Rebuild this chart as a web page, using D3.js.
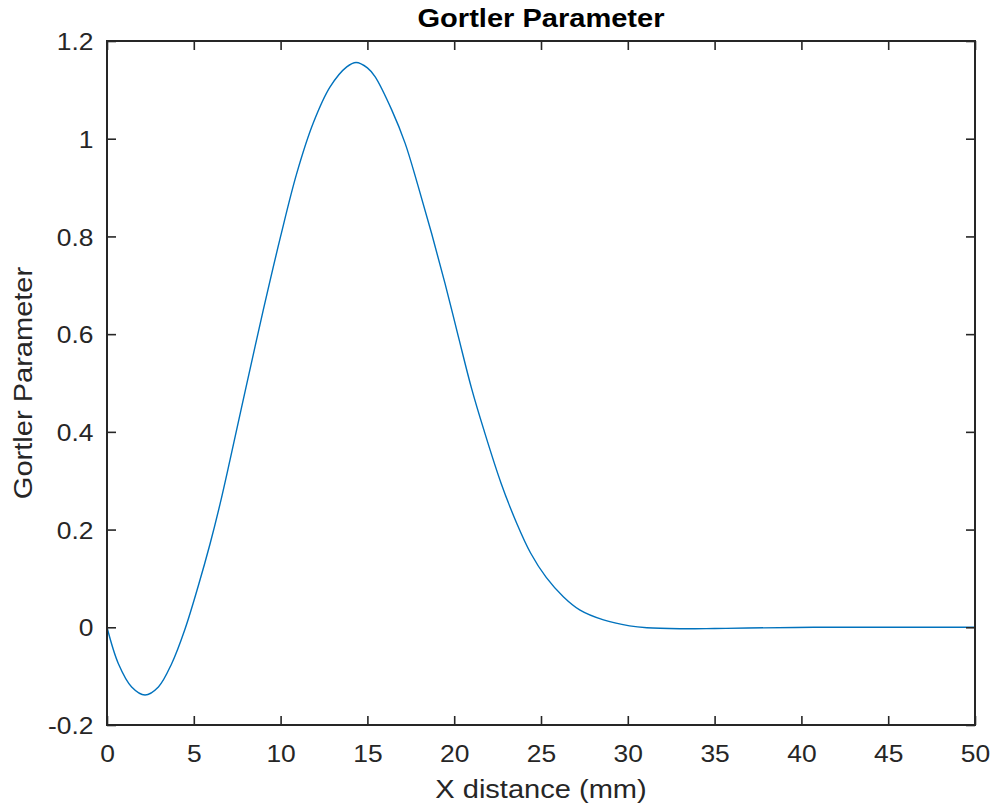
<!DOCTYPE html>
<html>
<head>
<meta charset="utf-8">
<script src="https://cdn.jsdelivr.net/npm/d3@7"></script>
<style>
  body { margin: 0; background: #fff; }
  text { font-family: "Liberation Sans", Arial, Helvetica, sans-serif; fill: #262626; }
</style>
</head>
<body>
<script>
// x distance (mm)
var xs = [0, 0.65, 1.42, 2.19, 2.96, 3.73, 4.49, 5.26, 5.93, 6.51, 7.09, 8.0, 9.0, 10.0,
  10.93, 11.88, 12.85, 13.81, 14.35, 15.0, 15.44, 16.4, 17.17, 17.93, 18.7, 19.47,
  20.24, 21.0, 21.7, 22.7, 23.6, 24.4, 25.3, 26.3, 27.25, 28.6, 30.1, 31.1, 33.0,
  35.0, 36.9, 40.7, 45, 50];
// Gortler parameter at each x
var gs = [0, -0.074, -0.122, -0.1385, -0.122, -0.074, -0.004, 0.085, 0.170, 0.252, 0.343, 0.49, 0.649, 0.80,
  0.929, 1.032, 1.106, 1.147, 1.156, 1.145, 1.127, 1.059, 0.991, 0.902, 0.806, 0.704,
  0.595, 0.489, 0.405, 0.295, 0.213, 0.152, 0.102, 0.062, 0.035, 0.015, 0.003, -0.001, -0.003,
  -0.0025, -0.0015, 0, 0, 0];

var xTicks = [0, 5, 10, 15, 20, 25, 30, 35, 40, 45, 50];
var yTicks = [-0.2, 0, 0.2, 0.4, 0.6, 0.8, 1, 1.2];
var yTickLabels = ["-0.2", "0", "0.2", "0.4", "0.6", "0.8", "1", "1.2"];

var width = 991, height = 807;
var margin = { top: 41, right: 16, bottom: 82, left: 107 };
var w = width - margin.left - margin.right,
  h = height - margin.top - margin.bottom;
var sx = 1.1; // reference text is a bit wider than Arial

var svg = d3.select("body").append("svg")
  .attr("width", width)
  .attr("height", height);

var g = svg.append("g")
  .attr("transform", "translate(" + margin.left + "," + margin.top + ")");

var x = d3.scaleLinear().domain([0, 50]).range([0, w]);
var y = d3.scaleLinear().domain([-0.2, 1.2]).range([h, 0]);

// curve
var data = xs.map(function(d, i) { return { x: d, y: gs[i] }; });
var line = d3.line()
  .x(function(d) { return x(d.x); })
  .y(function(d) { return y(d.y); })
  .curve(d3.curveCatmullRom.alpha(0.5));

g.append("path")
  .datum(data)
  .attr("fill", "none")
  .attr("stroke", "#0072BD")
  .attr("stroke-width", 1.4)
  .attr("d", line);

// axes, ticks inside on all four sides
function styleAxis(sel) {
  sel.select(".domain").remove();
  sel.selectAll(".tick line").attr("stroke", "#262626").attr("stroke-width", 1.6);
}

var axBottom = g.append("g")
  .attr("transform", "translate(0," + h + ")")
  .call(d3.axisBottom(x).tickValues(xTicks).tickSize(-9).tickSizeOuter(0)
    .tickFormat(d3.format("d")));
axBottom.call(styleAxis);
axBottom.selectAll(".tick text")
  .attr("y", 37).attr("dy", null)
  .attr("font-size", 24)
  .attr("transform", "scale(" + sx + ",1)");

var axLeft = g.append("g")
  .call(d3.axisLeft(y).tickValues(yTicks).tickSize(-9).tickSizeOuter(0)
    .tickFormat(function(d, i) { return yTickLabels[i]; }));
axLeft.call(styleAxis);
axLeft.selectAll(".tick text")
  .attr("x", -13.5 / sx).attr("dy", "0.36em")
  .attr("font-size", 24)
  .attr("transform", "scale(" + sx + ",1)");

var axTop = g.append("g")
  .call(d3.axisTop(x).tickValues(xTicks).tickSize(-9).tickSizeOuter(0).tickFormat(""));
axTop.call(styleAxis);

var axRight = g.append("g")
  .attr("transform", "translate(" + w + ",0)")
  .call(d3.axisRight(y).tickValues(yTicks).tickSize(-9).tickSizeOuter(0).tickFormat(""));
axRight.call(styleAxis);

// box
g.append("rect")
  .attr("width", w)
  .attr("height", h)
  .attr("fill", "none")
  .attr("stroke", "#262626")
  .attr("stroke-width", 2);

// title and labels
svg.append("text")
  .attr("transform", "translate(" + (margin.left + w / 2) + ",27) scale(" + sx + ",1)")
  .attr("text-anchor", "middle")
  .attr("font-size", 26.4)
  .attr("font-weight", "bold")
  .style("fill", "#000")
  .text("Gortler Parameter");

svg.append("text")
  .attr("transform", "translate(" + (margin.left + w / 2) + ",798) scale(" + sx + ",1)")
  .attr("text-anchor", "middle")
  .attr("font-size", 26.4)
  .text("X distance (mm)");

svg.append("text")
  .attr("transform", "translate(32," + (margin.top + h / 2) + ") rotate(-90) scale(" + sx + ",1)")
  .attr("text-anchor", "middle")
  .attr("font-size", 26.4)
  .text("Gortler Parameter");
</script>
</body>
</html>
